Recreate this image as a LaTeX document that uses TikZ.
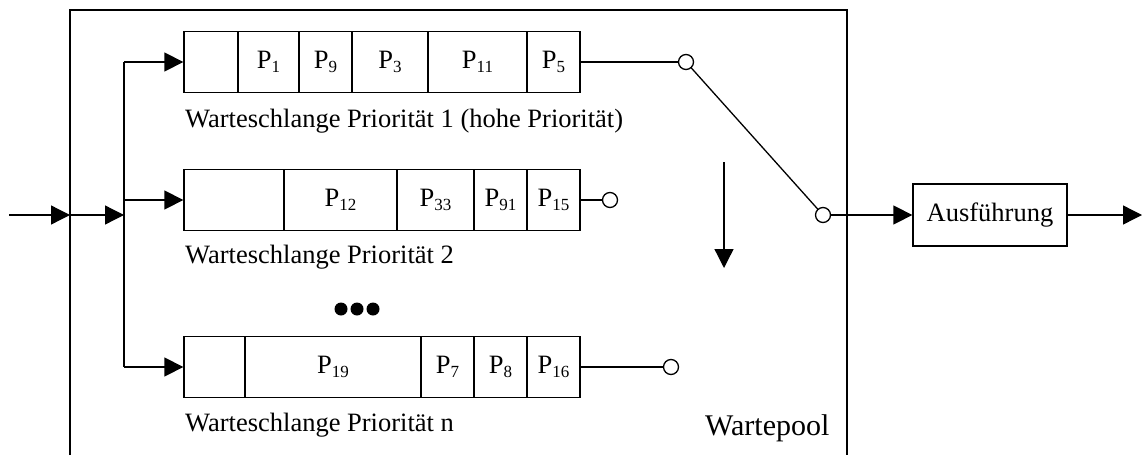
\documentclass[tikz,border=0pt]{standalone}
\usepackage{fontspec}
\setmainfont{Liberation Serif}
\usetikzlibrary{arrows.meta}
\newcommand{\Pq}[1]{P\raisebox{-3.4pt}{\fontsize{17}{17}\selectfont #1}}
\tikzset{
  lw/.style={line width=1.3pt},
  cell/.style={draw, lw, inner sep=0pt, minimum height=61pt, font=\fontsize{26.5}{30}\selectfont},
  sw/.style={draw, lw, circle, fill=white, inner sep=0pt, minimum size=15pt},
  arr/.style={lw, -{Triangle[length=19pt,width=19pt]}},
  lab/.style={anchor=base west, inner sep=0pt, font=\fontsize{26.5}{30}\selectfont},
}
\begin{document}
\begin{tikzpicture}[x=1pt,y=-1pt]
\useasboundingbox (0,0) rectangle (1142,455);
% Wartepool frame
\coordinate (fbl) at (70,455);
\coordinate (ftl) at (70,10);
\coordinate (ftr) at (847,10);
\coordinate (fbr) at (847,455);
\draw[lw] (fbl) -- (ftl) -- (ftr) -- (fbr);
\node[anchor=base west, inner sep=0pt, font=\fontsize{30}{34}\selectfont] (pool) at (705,435) {Wartepool};
% queue 1
\node[cell, minimum width=54pt] (q1a) at (211,62) {};
\node[cell, minimum width=61pt] (q1b) at (268.5,62) {\Pq{1}};
\node[cell, minimum width=53pt] (q1c) at (325.5,62) {\Pq{9}};
\node[cell, minimum width=76pt] (q1d) at (390,62) {\Pq{3}};
\node[cell, minimum width=99pt] (q1e) at (477.5,62) {\Pq{11}};
\node[cell, minimum width=53pt] (q1f) at (553.5,62) {\Pq{5}};
\node[lab] (l1) at (185,127) {Warteschlange Priorität 1 (hohe Priorität)};
% queue 2
\node[cell, minimum width=100pt] (q2a) at (234,200) {};
\node[cell, minimum width=113pt] (q2b) at (340.5,200) {\Pq{12}};
\node[cell, minimum width=77pt] (q2c) at (435.5,200) {\Pq{33}};
\node[cell, minimum width=53pt] (q2d) at (500.5,200) {\Pq{91}};
\node[cell, minimum width=53pt] (q2e) at (553.5,200) {\Pq{15}};
\node[lab] (l2) at (185,263) {Warteschlange Priorität 2};
% queue n
\node[cell, minimum width=61pt] (q3a) at (214.5,367) {};
\node[cell, minimum width=176pt] (q3b) at (333,367) {\Pq{19}};
\node[cell, minimum width=53pt] (q3c) at (447.5,367) {\Pq{7}};
\node[cell, minimum width=53pt] (q3d) at (500.5,367) {\Pq{8}};
\node[cell, minimum width=53pt] (q3e) at (553.5,367) {\Pq{16}};
\node[lab] (l3) at (185,431) {Warteschlange Priorität n};
% dots
\fill (341,309) circle (6.5);
\fill (357,309) circle (6.5);
\fill (373,309) circle (6.5);
% input
\coordinate (in) at (9,215);
\coordinate (j1) at (70,215);
\coordinate (j2) at (124,215);
\coordinate (b1) at (124,62);
\coordinate (b2) at (124,200);
\coordinate (b3) at (124,367);
\draw[arr] (in) -- (j1);
\draw[arr] (j1) -- (j2);
\draw[lw] (b1) -- (b3);
\draw[arr] (b1) -- (q1a.west);
\draw[arr] (b2) -- (q2a.west);
\draw[arr] (b3) -- (q3a.west);
% switch contacts
\node[sw] (c1) at (686,62) {};
\node[sw] (c2) at (610,200) {};
\node[sw] (c3) at (671,367) {};
\node[sw] (c4) at (823,215) {};
\draw[lw] (q1f.east) -- (c1);
\draw[lw] (q2e.east) -- (c2);
\draw[lw] (q3e.east) -- (c3);
\draw[lw] (c1) -- (c4);
% down arrow
\coordinate (d1) at (724,162);
\coordinate (d2) at (724,268);
\draw[arr] (d1) -- (d2);
% execution
\node[draw, lw, minimum width=154pt, minimum height=62pt, inner sep=0pt, font=\fontsize{26.5}{30}\selectfont] (exec) at (990,215) {Ausführung};
\coordinate (out) at (1142,215);
\draw[arr] (c4) -- (exec.west);
\draw[arr] (exec.east) -- (out);
\end{tikzpicture}
\end{document}
